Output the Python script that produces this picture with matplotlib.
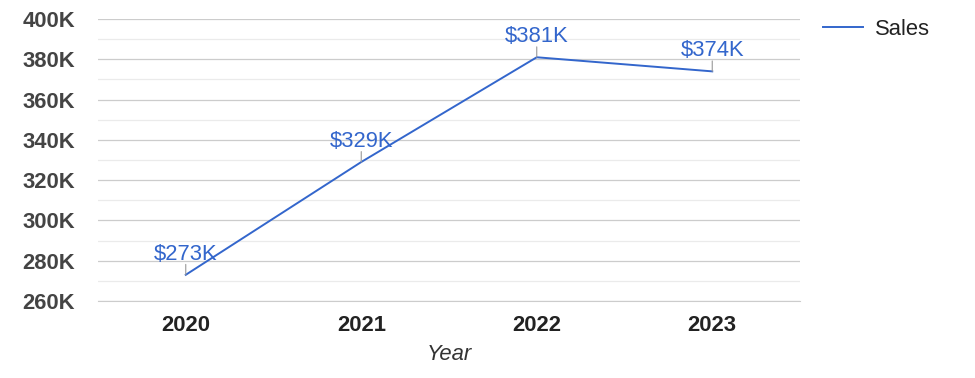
import matplotlib
matplotlib.use('Agg')
from matplotlib import pyplot as plt
from matplotlib.ticker import MultipleLocator, FuncFormatter

years = ['2020', '2021', '2022', '2023']
sales = [273000, 329000, 381000, 374000]
labels = ['$273K', '$329K', '$381K', '$374K']

blue = '#3366cc'

plt.rcParams['font.family'] = ['Liberation Sans', 'DejaVu Sans']
plt.rcParams['font.size'] = 15.8

fig = plt.figure(figsize=(9.75, 3.78), dpi=100)
ax = fig.add_axes([98/975, 77/378, 702/975, 282/378])

x = list(range(len(years)))
ax.plot(x, sales, color=blue, lw=1.4, label='Sales', zorder=3)

for xi, yi, lab in zip(x, sales, labels):
    # little tick from the point up to the label
    ax.annotate('', xy=(xi, yi), xytext=(0, 7.5), textcoords='offset points',
                arrowprops=dict(arrowstyle='-', color='#999999', lw=0.8,
                                shrinkA=0, shrinkB=0))
    ax.annotate(lab, xy=(xi, yi), xytext=(0, 11), textcoords='offset points',
                ha='center', va='baseline', color=blue, zorder=4)

ax.set_xlim(-0.5, 3.5)
ax.set_ylim(260000, 400000)
ax.set_xticks(x)
ax.set_xticklabels(years, fontweight='bold', color='#222222')
ax.yaxis.set_major_locator(MultipleLocator(20000))
ax.yaxis.set_minor_locator(MultipleLocator(10000))
ax.yaxis.set_major_formatter(FuncFormatter(lambda v, p: '%dK' % round(v / 1000)))
for t in ax.get_yticklabels():
    t.set_fontweight('bold')
    t.set_color('#444444')

ax.tick_params(axis='x', length=0, pad=10)
ax.tick_params(axis='y', which='both', length=0, pad=16.5)
ax.grid(axis='y', which='major', color='#cccccc', lw=0.9)
ax.grid(axis='y', which='minor', color='#ebebeb', lw=0.9)
ax.set_axisbelow(True)
for s in ['top', 'right', 'left']:
    ax.spines[s].set_visible(False)
ax.spines['bottom'].set_color('#cccccc')

ax.set_xlabel('Year', fontstyle='italic', color='#333333', labelpad=6)

fig.legend(loc='upper left', bbox_to_anchor=(823/975, 1 - 19/378), frameon=False,
           handlelength=1.8, handletextpad=0.55, borderaxespad=0, borderpad=0,
           labelcolor='#222222')

fig.savefig('out.png', dpi=100, facecolor='white')
